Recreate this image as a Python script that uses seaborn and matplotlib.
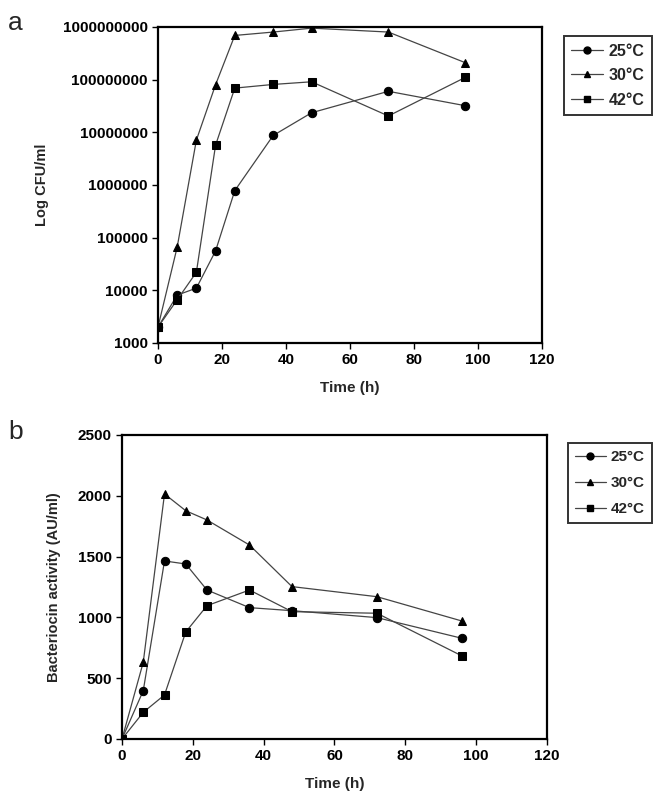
import matplotlib
matplotlib.use("Agg")
import matplotlib.pyplot as plt
import matplotlib.ticker as mticker
from matplotlib.lines import Line2D
import seaborn as sns
import pandas as pd

# Data
waktu = [0, 6, 12, 18, 24, 36, 48, 72, 96]
suhu = ["25°C", "30°C", "42°C"]

cfu_25 = [2000, 8100, 11000, 56000, 780000, 8.7e6, 2.35e7, 6.0e7, 3.2e7]
cfu_30 = [2000, 66000, 7.1e6, 8.0e7, 6.9e8, 8.0e8, 9.5e8, 8.0e8, 2.1e8]
cfu_42 = [2000, 6600, 22000, 5.7e6, 6.9e7, 8.1e7, 9.1e7, 2.04e7, 1.1e8]

bac_25 = [0, 397, 1464, 1439, 1225, 1080, 1055, 998, 828]
bac_30 = [0, 631, 2015, 1877, 1801, 1595, 1253, 1170, 970]
bac_42 = [0, 219, 362, 880, 1096, 1225, 1047, 1034, 683]

y_ticks_a = [1e3, 1e4, 1e5, 1e6, 1e7, 1e8, 1e9]
y_ticks_b = [0, 500, 1000, 1500, 2000, 2500]
x_ticks = [0, 20, 40, 60, 80, 100, 120]


def buat_df(series):
    rows = []
    for label, vals in zip(suhu, series):
        for t, v in zip(waktu, vals):
            rows.append({"Time": t, "Value": v, "Temp": label})
    return pd.DataFrame(rows)


df_a = buat_df([cfu_25, cfu_30, cfu_42])
df_b = buat_df([bac_25, bac_30, bac_42])

sns.set_style("white")
plt.rcParams["font.family"] = ["Liberation Sans", "DejaVu Sans"]
plt.rcParams["font.weight"] = "bold"

markers = {"25°C": "o", "30°C": "^", "42°C": "s"}

fig = plt.figure(figsize=(6.66, 8.07), dpi=100)
ax_a = fig.add_axes([0.2372, 0.575, 0.5766, 0.3916])
ax_b = fig.add_axes([0.1832, 0.0843, 0.638, 0.3767])


def gambar(ax, df):
    sns.lineplot(data=df, x="Time", y="Value", style="Temp", markers=markers,
                 dashes=False, color="#444444", linewidth=0.9,
                 markersize=6, markerfacecolor="black", markeredgecolor="black",
                 ax=ax, legend=False)
    ax.set_xlim(0, 120)
    ax.set_xticks(x_ticks)
    for s in ax.spines.values():
        s.set_color("black")
        s.set_linewidth(1.6)
    ax.tick_params(direction="out", length=4, width=1, colors="black",
                   labelsize=11, left=True, bottom=True)
    ax.set_xlabel("Time (h)", fontsize=11, fontweight="bold", labelpad=10)


def tebal(ax):
    for lbl in ax.get_xticklabels() + ax.get_yticklabels():
        lbl.set_fontweight("bold")


def legenda(anchor, fs, spasi):
    handles = [Line2D([], [], color="#444444", linewidth=0.9, marker=markers[s],
                      markerfacecolor="black", markeredgecolor="black", markersize=5)
               for s in suhu]
    leg = fig.legend(handles, suhu, loc="upper left", bbox_to_anchor=anchor,
                     frameon=True, fancybox=False, handlelength=2.0,
                     prop={"weight": "bold", "size": fs}, borderpad=0.45,
                     labelspacing=spasi, handletextpad=0.35, borderaxespad=0)
    leg.get_frame().set_edgecolor("black")
    leg.get_frame().set_linewidth(1.4)


# Panel a
gambar(ax_a, df_a)
ax_a.set_yscale("log")
ax_a.set_ylim(1e3, 1e9)
ax_a.yaxis.set_major_locator(mticker.FixedLocator(y_ticks_a))
ax_a.yaxis.set_minor_locator(mticker.NullLocator())
ax_a.yaxis.set_major_formatter(mticker.FuncFormatter(lambda v, p: f"{int(round(v))}"))
tebal(ax_a)
ax_a.set_ylabel("Log CFU/ml", fontsize=10.5, fontweight="bold", labelpad=10)
legenda((0.847, 0.955), 11.5, 0.6)

# Panel b
gambar(ax_b, df_b)
ax_b.set_ylim(0, 2500)
ax_b.set_yticks(y_ticks_b)
tebal(ax_b)
ax_b.set_ylabel("Bacteriocin activity (AU/ml)", fontsize=10.5, fontweight="bold", labelpad=12)
legenda((0.853, 0.451), 11, 0.8)

fig.text(0.012, 0.972, "a", fontsize=19, va="center", fontweight="normal")
fig.text(0.012, 0.465, "b", fontsize=19, va="center", fontweight="normal")

fig.savefig("out.png", dpi=100, facecolor="white")
